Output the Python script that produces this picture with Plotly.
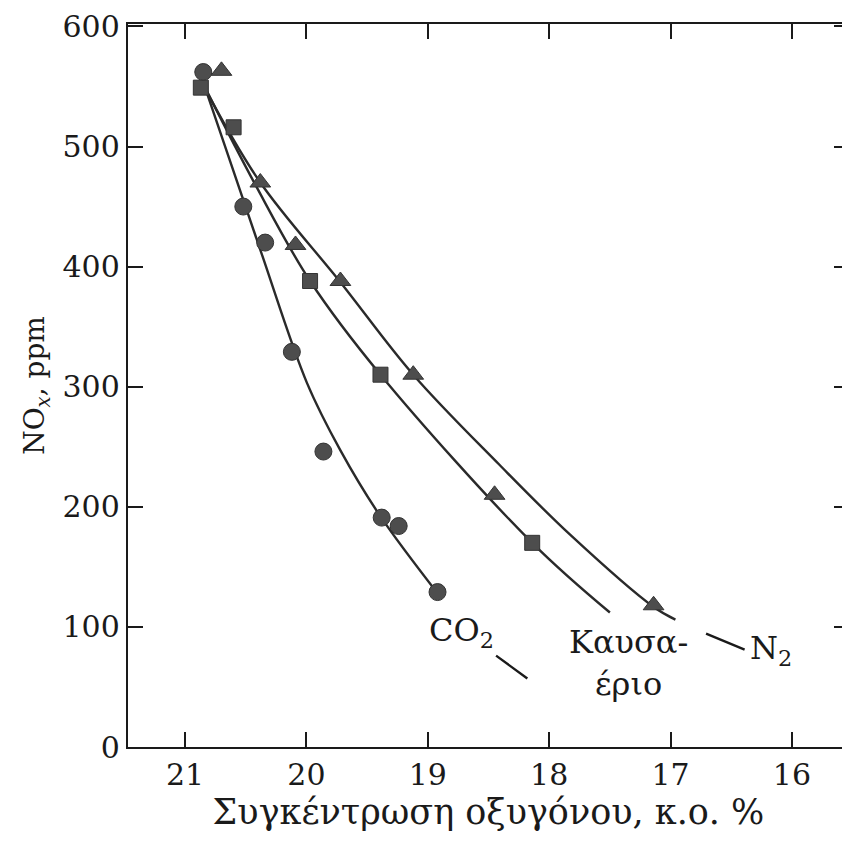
import plotly.graph_objects as go

# ---- data ----
co2_x = [20.85, 20.52, 20.34, 20.12, 19.86, 19.38, 19.24, 18.92]
co2_y = [562, 450, 420, 329, 246, 191, 184, 129]

flue_x = [20.87, 20.60, 19.97, 19.39, 18.14]
flue_y = [549, 516, 388, 310, 170]

n2_x = [20.70, 20.38, 20.09, 19.72, 19.12, 18.45, 17.14]
n2_y = [563, 470, 418, 388, 310, 210, 118]

# fitted curves as traced in the picture
co2_fit_x = [20.835, 20.38, 19.995, 19.72, 19.39, 18.92]
co2_fit_y = [549, 414, 303, 247, 192, 128]

flue_fit_x = [20.835, 20.42, 19.97, 19.39, 18.14, 17.50]
flue_fit_y = [549, 468, 388, 310, 170, 112]

n2_fit_x = [20.835, 20.38, 19.72, 19.12, 18.41, 17.83, 17.145, 16.96]
n2_fit_y = [548, 470, 387, 310, 235, 177, 117, 106]

x_ticks = [21, 20, 19, 18, 17, 16]
y_ticks = [0, 100, 200, 300, 400, 500, 600]

labels = [
    {"text": "CO<sub>2</sub>", "x": 18.72, "y": 96},
    {"text": "Καυσα-<br>έριο", "x": 17.35, "y": 70},
    {"text": "N<sub>2</sub>", "x": 16.17, "y": 81},
]
leaders = [
    {"x0": 18.45, "y0": 77, "x1": 18.18, "y1": 57},
    {"x0": 16.72, "y0": 95, "x1": 16.39, "y1": 81},
]

FONT = "DejaVu Serif"
INK = "#1a1a1a"
MARK = "#4d4d4d"

fig = go.Figure()

for fx, fy in [(co2_fit_x, co2_fit_y), (flue_fit_x, flue_fit_y), (n2_fit_x, n2_fit_y)]:
    fig.add_trace(go.Scatter(x=fx, y=fy, mode="lines",
                             line=dict(color="#2a2a2a", width=2.4, shape="spline", smoothing=1.0),
                             showlegend=False, hoverinfo="skip"))

fig.add_trace(go.Scatter(x=co2_x, y=co2_y, mode="markers", name="CO2",
                         marker=dict(symbol="circle", size=17, color=MARK,
                                     line=dict(color="#333", width=1)), showlegend=False))
fig.add_trace(go.Scatter(x=flue_x, y=flue_y, mode="markers", name="Καυσαέριο",
                         marker=dict(symbol="square", size=15, color=MARK,
                                     line=dict(color="#333", width=1)), showlegend=False))
fig.add_trace(go.Scatter(x=n2_x, y=n2_y, mode="markers", name="N2",
                         marker=dict(symbol="triangle-up", size=18, color=MARK,
                                     line=dict(color="#333", width=1)), showlegend=False))

for lb in labels:
    fig.add_annotation(x=lb["x"], y=lb["y"], text=lb["text"], showarrow=False,
                       font=dict(family=FONT, size=32, color=INK), xref="x", yref="y")
for ld in leaders:
    fig.add_annotation(x=ld["x1"], y=ld["y1"], ax=ld["x0"], ay=ld["y0"],
                       xref="x", yref="y", axref="x", ayref="y", text="",
                       showarrow=True, arrowhead=0, arrowwidth=2.4, arrowcolor=INK)

axis_common = dict(showline=True, linecolor=INK, linewidth=2.4, mirror="ticks",
                   ticks="inside", ticklen=15, tickwidth=2, tickcolor=INK,
                   showgrid=False, zeroline=False, automargin=False,
                   tickfont=dict(family=FONT, size=30, color=INK))

fig.update_xaxes(range=[21.47, 15.53], tickvals=x_ticks, ticktext=[str(v) for v in x_ticks],
                 title=dict(text="Συγκέντρωση οξυγόνου, κ.ο. %",
                            font=dict(family=FONT, size=35, color=INK), standoff=8),
                 **axis_common)
fig.update_yaxes(range=[0, 602], tickvals=y_ticks, ticktext=[str(v) for v in y_ticks],
                 title=dict(text="NO<sub><i>x</i></sub>, ppm",
                            font=dict(family=FONT, size=28, color=INK), standoff=10),
                 **axis_common)

# the page body adds an 8px offset, so the figure is sized to fit the 850x845 window
fig.update_layout(width=842, height=837, margin=dict(l=120, r=1, t=16, b=98),
                  paper_bgcolor="white", plot_bgcolor="white",
                  font=dict(family=FONT, color=INK))

fig.write_html("out.html")
